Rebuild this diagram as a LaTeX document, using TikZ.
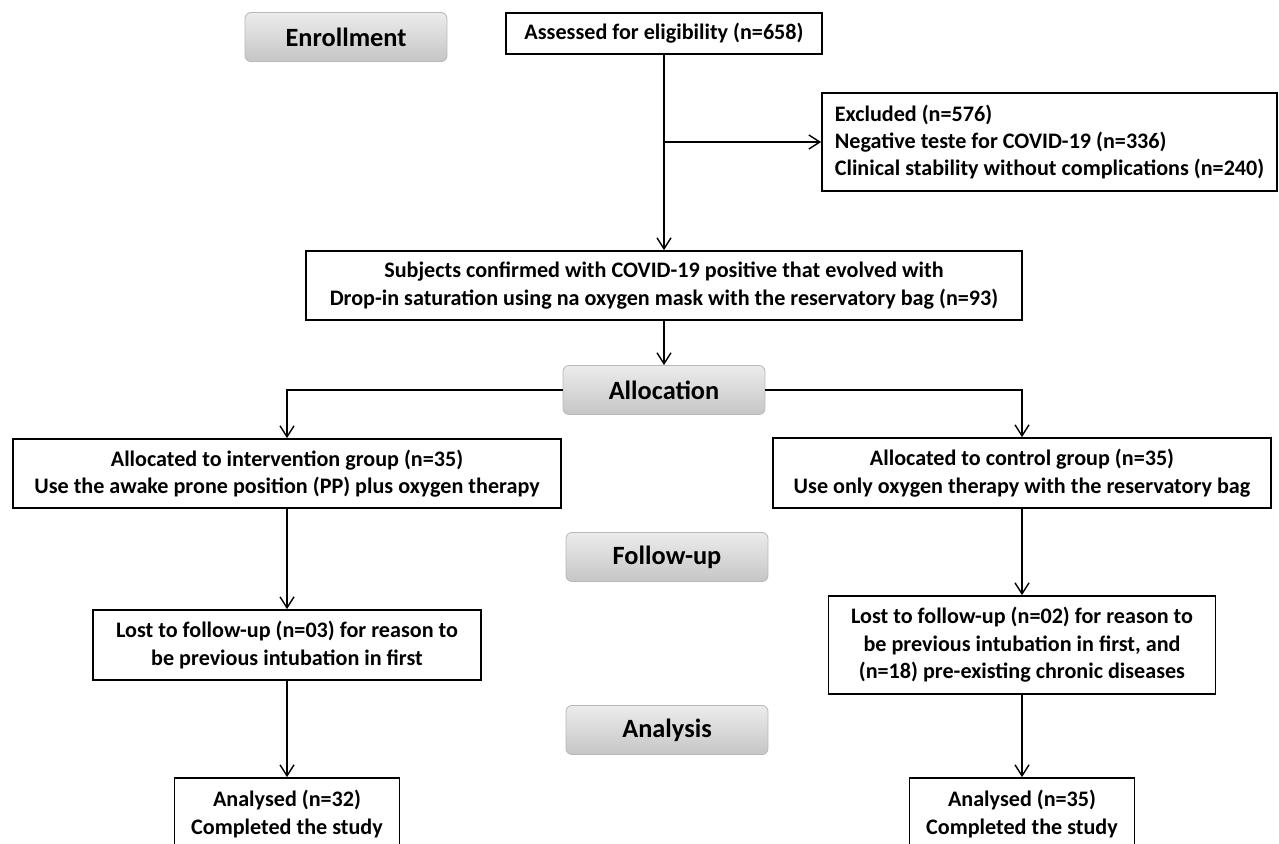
\documentclass[tikz,border=0pt]{standalone}
\usepackage{fontspec}
\setmainfont{Carlito}
\usetikzlibrary{arrows.meta,positioning}
\begin{document}
\begin{tikzpicture}[x=0.02cm, y=-0.02cm,
    box/.style={draw=black, line width=1pt, fill=white, align=center, inner sep=0pt,
      font=\bfseries\fontsize{12.6}{15.6}\selectfont},
    stage/.style={draw=gray!55, line width=0.5pt, rounded corners=0.12cm,
      top color=gray!15, bottom color=gray!45, minimum width=4.04cm, minimum height=0.98cm,
      font=\bfseries\fontsize{15}{17}\selectfont},
    arr/.style={-{Straight Barb[length=2.2mm,width=2.8mm]}, line width=0.8pt}]
        \useasboundingbox (0,0) rectangle (1279,843);
        \clip (0,0) rectangle (1279,843);

        % Fasi
        \node[stage] (enroll) at (346,37) {Enrollment};
        \node[stage] (alloc) at (664,390) {Allocation};
        \node[stage] (follow) at (667,557) {Follow-up};
        \node[stage] (analysis) at (667,730) {Analysis};

        % Arruolamento
        \node[box, minimum width=6.32cm, minimum height=0.82cm] (assess) at (664,33.5)
            {Assessed for eligibility (n=658)};
        \node[box, align=left, minimum width=9.1cm, minimum height=1.96cm] (excl) at (1049.5,142)
            {Excluded (n=576)\\Negative teste for COVID-19 (n=336)\\Clinical stability without complications (n=240)};
        \node[box, minimum width=14.32cm, minimum height=1.38cm] (subj) at (664,285.5)
            {Subjects confirmed with COVID-19 positive that evolved with\\Drop-in saturation using na oxygen mask with the reservatory bag (n=93)};

        % Gruppi
        \node[box, minimum width=10.96cm, minimum height=1.38cm] (interv) at (287,473.5)
            {Allocated to intervention group (n=35)\\Use the awake prone position (PP) plus oxygen therapy};
        \node[box, minimum width=9.96cm, minimum height=1.4cm] (ctrl) at (1022,473)
            {Allocated to control group (n=35)\\Use only oxygen therapy with the reservatory bag};

        % Follow-up
        \node[box, minimum width=7.76cm, minimum height=1.4cm] (lostl) at (287,645)
            {Lost to follow-up (n=03) for reason to\\be previous intubation in first};
        \node[box, minimum width=7.74cm, minimum height=1.96cm] (lostr) at (1022,645)
            {Lost to follow-up (n=02) for reason to\\be previous intubation in first, and\\(n=18) pre-existing chronic diseases};

        % Analisi
        \node[box, minimum width=4.5cm, minimum height=1.44cm] (anl) at (287,814)
            {Analysed (n=32)\\Completed the study};
        \node[box, minimum width=4.5cm, minimum height=1.44cm] (anr) at (1022,814)
            {Analysed (n=35)\\Completed the study};

        % Frecce
        \coordinate (branch) at (assess.south |- excl.west);
        \draw[arr] (assess.south) -- (subj.north);
        \draw[arr] (branch) -- (excl.west);
        \draw[arr] (subj.south) -- (alloc.north);
        \draw[arr] (alloc.west) -| (interv.north);
        \draw[arr] (alloc.east) -| (ctrl.north);
        \draw[arr] (interv.south) -- (lostl.north);
        \draw[arr] (ctrl.south) -- (lostr.north);
        \draw[arr] (lostl.south) -- (anl.north);
        \draw[arr] (lostr.south) -- (anr.north);

    \end{tikzpicture}
\end{document}
